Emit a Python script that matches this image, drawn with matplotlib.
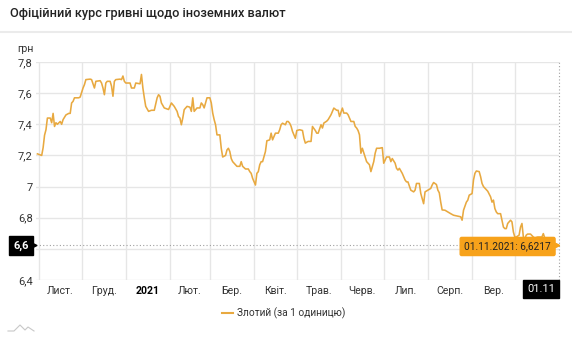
import matplotlib
matplotlib.use('Agg')
import matplotlib.pyplot as plt
import matplotlib.transforms as mtransforms
from matplotlib.lines import Line2D
import pandas as pd

plt.rcParams['font.family'] = ['Roboto', 'DejaVu Sans']

title = 'Офіційний курс гривні щодо іноземних валют'
unit_label = 'грн'
series_name = 'Злотий (за 1 одиницю)'

# days counted from 2020-11-01, rate of PLN in UAH
start = pd.Timestamp('2020-11-01')
days = [-1, 2, 3, 4, 5, 6, 8, 9, 10, 11, 12, 13, 15, 16, 17, 19, 21, 22, 23, 24, 25, 28, 29,
        31, 32, 33, 36, 37, 39, 40, 43, 44, 45, 46, 47, 48, 50, 51, 52, 53, 54, 57, 58, 59, 60,
        61, 64, 65, 67, 68, 71, 72, 73, 74, 75, 77, 79, 81, 83, 84, 85, 86, 88, 91, 92, 93, 95,
        97, 98, 99, 100, 101, 102, 104, 106, 107, 108, 109, 111, 113, 114, 115, 116, 118, 120,
        121, 122, 123, 124, 125, 126, 127, 128, 129, 131, 132, 133, 134, 135, 136, 138, 139,
        141, 142, 143, 145, 147, 148, 149, 150, 152, 153, 154, 155, 156, 157, 159, 160, 162,
        163, 164, 166, 168, 169, 170, 171, 173, 174, 175, 176, 177, 178, 180, 181, 183, 185,
        186, 187, 188, 189, 191, 192, 194, 195, 196, 198, 199, 200, 202, 203, 205, 207, 209,
        210, 211, 213, 214, 216, 217, 219, 221, 222, 223, 224, 225, 226, 227, 229, 230, 231,
        232, 233, 235, 236, 237, 239, 241, 242, 243, 244, 246, 247, 248, 250, 251, 252, 253,
        255, 256, 257, 258, 259, 261, 263, 264, 265, 267, 268, 269, 270, 271, 273, 275, 276,
        277, 279, 280, 281, 282, 283, 285, 287, 289, 291, 294, 296, 297, 298, 300, 301, 302,
        304, 305, 306, 307, 309, 310, 311, 312, 314, 315, 317, 318, 319, 320, 321, 322, 324,
        325, 326, 327, 328, 329, 331, 332, 333, 334, 335, 337, 338, 339, 340, 341, 342, 343,
        345, 347, 348, 350, 353, 354, 355, 358, 362, 365]
rates = [7.21, 7.20, 7.25, 7.33, 7.365, 7.44, 7.44, 7.41, 7.47, 7.386, 7.41, 7.40, 7.418, 7.40,
         7.43, 7.46, 7.47, 7.47, 7.537, 7.547, 7.57, 7.57, 7.575,
         7.633, 7.655, 7.687, 7.69, 7.687, 7.633, 7.676, 7.68, 7.665, 7.633, 7.59, 7.665, 7.676,
         7.676, 7.645, 7.58, 7.676, 7.687, 7.69, 7.687, 7.71, 7.676,
         7.665, 7.665, 7.633, 7.633, 7.665, 7.66, 7.72, 7.633, 7.57, 7.515, 7.483, 7.49, 7.49,
         7.57, 7.59, 7.58, 7.537, 7.505, 7.495, 7.515, 7.537, 7.515,
         7.483, 7.45, 7.44, 7.397, 7.44, 7.494, 7.515, 7.51, 7.483, 7.57, 7.483, 7.505, 7.505,
         7.537, 7.526, 7.505, 7.57, 7.57,
         7.537, 7.472, 7.43, 7.397, 7.332, 7.332, 7.332, 7.246, 7.19, 7.2, 7.235, 7.246, 7.225,
         7.18, 7.16, 7.14, 7.13,
         7.13, 7.16, 7.13, 7.113, 7.113, 7.096, 7.085, 7.053, 7.01, 7.085, 7.096, 7.14, 7.16,
         7.16, 7.225, 7.294, 7.30,
         7.343, 7.30, 7.343, 7.343, 7.365, 7.397, 7.407, 7.397, 7.418, 7.418, 7.407, 7.387,
         7.354, 7.31, 7.36, 7.365, 7.36,
         7.31, 7.279, 7.285, 7.29, 7.29, 7.386, 7.36, 7.343, 7.343, 7.397, 7.376, 7.408, 7.42,
         7.43, 7.461, 7.504, 7.49,
         7.49, 7.45, 7.504, 7.472, 7.472, 7.461, 7.418, 7.418, 7.386, 7.376, 7.36, 7.332, 7.214,
         7.246, 7.19, 7.16, 7.15,
         7.14, 7.096, 7.16, 7.214, 7.246, 7.246, 7.25, 7.15, 7.17, 7.19, 7.19, 7.16, 7.18, 7.15,
         7.117, 7.106, 7.117,
         7.085, 7.063, 7.042, 7.03, 7.03, 6.977, 6.966, 6.977, 7.02, 7.02, 6.956, 6.924, 6.89,
         6.966, 6.977, 6.988, 7.01,
         7.026, 7.013, 6.977, 6.96, 6.90, 6.85, 6.848, 6.837, 6.826, 6.816, 6.81, 6.806, 6.784,
         6.848, 6.90, 6.913, 6.945,
         6.955, 7.042, 7.085, 7.10, 7.096, 7.063, 7.02, 7.0, 6.98, 6.97, 6.934, 6.90, 6.913,
         6.859, 6.837, 6.826, 6.826,
         6.784, 6.74, 6.73, 6.73, 6.763, 6.784, 6.773, 6.708, 6.676, 6.676, 6.688, 6.74, 6.763,
         6.676, 6.665, 6.688, 6.695,
         6.695, 6.676, 6.67, 6.676, 6.676, 6.698, 6.67, 6.65, 6.635, 6.6217]

month_labels = ['Лист.', 'Груд.', '2021', 'Лют.', 'Бер.', 'Квіт.', 'Трав.', 'Черв.',
                'Лип.', 'Серп.', 'Вер.', 'Жовт.']
y_ticks = [6.4, 6.6, 6.8, 7.0, 7.2, 7.4, 7.6, 7.8]
last_date = pd.Timestamp('2021-11-01')
last_rate = 6.6217

line_color = '#E8A940'
grid_color = '#e6e6e6'
text_color = '#333333'
tip_color = '#F7A21B'

dates = start + pd.to_timedelta(days, unit='D')
month_starts = pd.date_range('2020-11-01', '2021-11-01', freq='MS')
month_mids = month_starts[:-1] + (month_starts[1:] - month_starts[:-1]) / 2

W, H = 572, 350
fig = plt.figure(figsize=(W / 100, H / 100), dpi=100)
ax = fig.add_axes([36 / W, 70 / H, (559 - 36) / W, (280 - 62) / H])

ax.plot(dates, rates, color=line_color, lw=1.15, zorder=3)
ax.set_xlim(pd.Timestamp('2020-10-30'), last_date)
ax.set_ylim(6.4, 7.8)

ax.set_xticks(month_starts[:-1])
ax.set_xticklabels([])
ax.set_xticks(month_mids, minor=True)
ax.set_xticklabels(month_labels, minor=True)
ax.set_yticks(y_ticks)
# the 6,6 tick sits under the crosshair label, so it is left blank
ax.set_yticklabels(['' if abs(v - 6.6) < 1e-9 else ('%g' % v).replace('.', ',')
                    for v in y_ticks])
ax.tick_params(which='both', length=0, labelsize=7.6, colors=text_color)
ax.tick_params(axis='y', pad=2.5, labelsize=8)
ax.tick_params(axis='x', which='minor', pad=4)
for lab in ax.get_xticklabels(minor=True):
    if lab.get_text() == '2021':
        lab.set_fontweight('bold')
        lab.set_color('black')
ax.grid(True, which='major', color=grid_color, lw=1)
ax.set_axisbelow(True)
for s in ax.spines.values():
    s.set_visible(False)

# crosshair
ax.axhline(last_rate, color='#a0a0a0', lw=0.8, ls=(0, (1, 2)), zorder=2)
ax.axvline(last_date, color='#a0a0a0', lw=0.8, ls=(0, (1, 2)), zorder=2, clip_on=False)

blend = mtransforms.blended_transform_factory(ax.transAxes, ax.transData)
ax.text(-0.0135, last_rate, '6,6', transform=blend, ha='right', va='center', color='white',
        fontsize=8, fontweight='bold', zorder=6, clip_on=False,
        bbox=dict(boxstyle='square,pad=0.4', fc='black', ec='black'))
ax.plot([-0.004], [last_rate], marker='>', ms=3.5, color='black', transform=blend,
        clip_on=False, zorder=6)

ax.annotate('01.11', xy=(last_date, 0), xycoords=('data', 'axes fraction'),
            xytext=(-4, -9), textcoords='offset pixels', ha='right', va='center',
            color='white', fontsize=8, zorder=6, annotation_clip=False,
            bbox=dict(boxstyle='square,pad=0.4', fc='black', ec='black'))

ax.annotate('01.11.2021: ' + ('%.4f' % last_rate).replace('.', ','),
            xy=(last_date, last_rate), xytext=(-8, -1), textcoords='offset pixels',
            ha='right', va='center', color='#222222', fontsize=7.3, zorder=7,
            annotation_clip=False,
            bbox=dict(boxstyle='round,pad=0.4,rounding_size=0.15', fc=tip_color, ec=tip_color))
ax.plot([last_date - pd.Timedelta(days=1.3)], [last_rate], marker='>', ms=3.2,
        color=tip_color, clip_on=False, zorder=7)

fig.text(10 / W, 1 - 14 / H, title, fontsize=9.2, fontweight='medium', va='center',
         color='#222222')
fig.add_artist(Line2D([0, 1], [1 - 32 / H] * 2, color='#ebebeb', lw=1.5,
                      transform=fig.transFigure))
fig.text(17 / W, 1 - 49 / H, unit_label, fontsize=7.6, va='center', color=text_color)

fig.legend(handles=[Line2D([0], [0], color=line_color, lw=1.5)], labels=[series_name],
           loc='center', bbox_to_anchor=(284 / W, 1 - 313 / H), frameon=False, fontsize=7.3,
           handlelength=1.1, handletextpad=0.4, labelcolor=text_color)

# small logo mark bottom-left
lx = [8, 14, 20, 25, 28, 34]
ly = [331, 331, 325, 330, 327, 331]
fig.add_artist(Line2D([x / W for x in lx], [1 - y / H for y in ly], color='#c8c8c8', lw=0.8,
                      transform=fig.transFigure))

fig.savefig('out.png', dpi=100)
